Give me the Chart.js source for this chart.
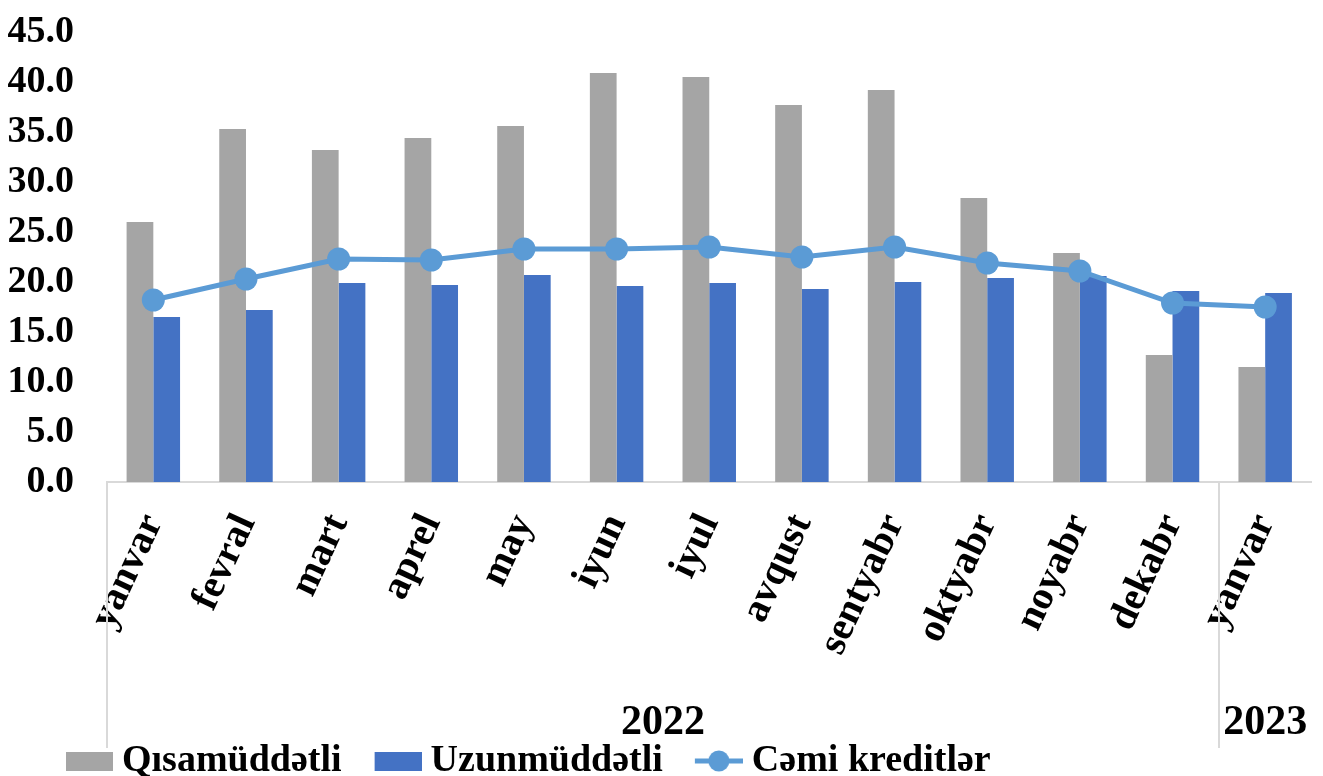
<!DOCTYPE html>
<html>
<head>
<meta charset="utf-8">
<script src="https://cdn.jsdelivr.net/npm/chart.js@4.4.1/dist/chart.umd.min.js"></script>
<style>
html,body{margin:0;padding:0;background:#fff;}
#wrap{width:1323px;height:776px;position:relative;}
</style>
</head>
<body>
<div id="wrap"><canvas id="c" width="1323" height="776"></canvas></div>
<script>
const categories = ['yanvar','fevral','mart','aprel','may','iyun','iyul','avqust','sentyabr','oktyabr','noyabr','dekabr','yanvar'];
const shortTerm = [26.0, 35.3, 33.2, 34.4, 35.6, 40.9, 40.5, 37.7, 39.2, 28.4, 22.9, 12.7, 11.5];
const longTerm  = [16.5, 17.2, 19.9, 19.7, 20.7, 19.6, 19.9, 19.3, 20.0, 20.4, 20.6, 19.1, 18.9];
const totalLoans = [18.2, 20.3, 22.3, 22.2, 23.3, 23.3, 23.5, 22.5, 23.5, 21.9, 21.1, 17.9, 17.5];
const seriesNames = ['Qısamüddətli', 'Uzunmüddətli', 'Cəmi kreditlər'];
const yearLabels = ['2022', '2023'];
const yearStartIndex = [0, 12];
const yTicks = [0, 5, 10, 15, 20, 25, 30, 35, 40, 45];

const GRAY = '#a5a5a5', BLUE = '#4472c4', LINE = '#5b9bd5', AXIS = '#d9d9d9';
const FONT = '"Liberation Serif", "Times New Roman", serif';

function legendIcon(kind, color) {
  const c = document.createElement('canvas');
  c.width = 80; c.height = 24;
  const g = c.getContext('2d');
  if (kind === 'rect') {
    g.fillStyle = color;
    g.fillRect(33, 3, 47, 19);
  } else {
    g.strokeStyle = color; g.lineWidth = 5;
    g.beginPath(); g.moveTo(32, 12); g.lineTo(80, 12); g.stroke();
    g.fillStyle = color;
    g.beginPath(); g.arc(56, 12, 10.5, 0, Math.PI * 2); g.fill();
  }
  return c;
}
const icons = [legendIcon('rect', GRAY), legendIcon('rect', BLUE), legendIcon('line', LINE)];

const yearPlugin = {
  id: 'years',
  afterLayout(chart) {
    if (chart.legend) { chart.legend.left += 33; chart.legend.right += 33; }
  },
  afterDraw(chart) {
    const xs = chart.scales.x, ca = chart.chartArea, ctx = chart.ctx;
    const n = categories.length;
    const step = xs.getPixelForValue(1) - xs.getPixelForValue(0);
    ctx.save();
    ctx.strokeStyle = AXIS; ctx.lineWidth = 2;
    const bottom = ca.bottom + 266;
    yearStartIndex.forEach((s) => {
      const x = Math.round(xs.getPixelForValue(s) - step / 2);
      ctx.beginPath(); ctx.moveTo(x, ca.bottom); ctx.lineTo(x, bottom); ctx.stroke();
    });
    ctx.fillStyle = '#000';
    ctx.font = 'bold 42px ' + FONT;
    ctx.textAlign = 'center'; ctx.textBaseline = 'middle';
    yearLabels.forEach((lab, i) => {
      const s = yearStartIndex[i];
      const e = (i + 1 < yearStartIndex.length ? yearStartIndex[i + 1] : n) - 1;
      const x = (xs.getPixelForValue(s) + xs.getPixelForValue(e)) / 2;
      ctx.fillText(lab, x, ca.bottom + 241);
    });
    ctx.restore();
  }
};

new Chart(document.getElementById('c'), {
  data: {
    labels: categories,
    datasets: [
      { type: 'bar', label: seriesNames[0], data: shortTerm, backgroundColor: GRAY, borderWidth: 0, order: 1,
        categoryPercentage: 0.577, barPercentage: 1.0 },
      { type: 'bar', label: seriesNames[1], data: longTerm, backgroundColor: BLUE, borderWidth: 0, order: 1,
        categoryPercentage: 0.577, barPercentage: 1.0 },
      { type: 'line', label: seriesNames[2], data: totalLoans, borderColor: LINE, backgroundColor: LINE,
        borderWidth: 5, pointRadius: 11.5, pointBackgroundColor: LINE, pointBorderWidth: 0, tension: 0, order: 0 }
    ]
  },
  options: {
    responsive: false,
    animation: false,
    layout: { padding: { left: 0, right: 0, top: 32, bottom: -14 } },
    plugins: {
      tooltip: { enabled: false },
      legend: {
        position: 'bottom',
        align: 'start',
        labels: {
          usePointStyle: true,
          pointStyleWidth: 60,
          padding: 10,
          color: '#000',
          font: { family: FONT, size: 38, weight: 'bold' },
          sort: (a, b) => a.datasetIndex - b.datasetIndex,
          generateLabels(chart) {
            return chart.data.datasets.map((ds, i) => ({
              text: ds.label, datasetIndex: i, pointStyle: icons[i],
              fillStyle: 'transparent', strokeStyle: 'transparent', lineWidth: 0, hidden: false
            }));
          }
        }
      }
    },
    scales: {
      x: {
        grid: { display: false, drawTicks: false },
        border: { display: true, color: AXIS, width: 2 },
        ticks: { color: '#000', font: { family: FONT, size: 40, weight: 'bold' }, minRotation: 65, maxRotation: 65, padding: 25, autoSkip: false },
        afterFit(s) { s.height = 250; s.paddingLeft = 0; s.paddingRight = 0; }
      },
      y: {
        min: 0, max: 45,
        grid: { display: false, drawTicks: false },
        border: { display: false },
        afterBuildTicks(s) { s.ticks = yTicks.map(v => ({ value: v })); },
        ticks: { color: '#000', font: { family: FONT, size: 38, weight: 'bold' }, padding: 33, autoSkip: false,
          callback: v => Number(v).toFixed(1) },
        afterFit(s) { s.width = 107; s.paddingTop = 0; s.paddingBottom = 0; }
      }
    }
  },
  plugins: [yearPlugin]
});
</script>
</body>
</html>
